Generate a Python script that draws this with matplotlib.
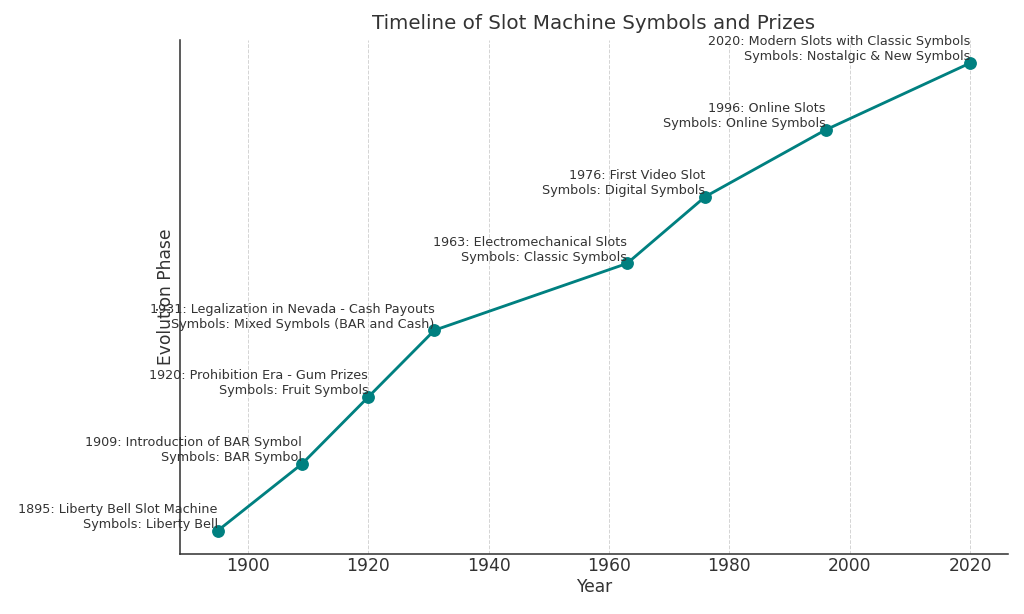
import matplotlib
matplotlib.use("Agg")
import matplotlib.pyplot as plt

years = [1895, 1909, 1920, 1931, 1963, 1976, 1996, 2020]
events = [
    "Liberty Bell Slot Machine",
    "Introduction of BAR Symbol",
    "Prohibition Era - Gum Prizes",
    "Legalization in Nevada - Cash Payouts",
    "Electromechanical Slots",
    "First Video Slot",
    "Online Slots",
    "Modern Slots with Classic Symbols",
]
symbols = [
    "Liberty Bell",
    "BAR Symbol",
    "Fruit Symbols",
    "Mixed Symbols (BAR and Cash)",
    "Classic Symbols",
    "Digital Symbols",
    "Online Symbols",
    "Nostalgic & New Symbols",
]
phase = list(range(len(years)))

txt = "#333333"
teal = "#008080"

fig = plt.figure(figsize=(10, 6), dpi=102.4)
ax = fig.add_axes([0.176, 0.0977, 0.808, 0.837])

ax.plot(years, phase, color=teal, linewidth=2, marker="o", markersize=8)

for yr, ph, ev, sy in zip(years, phase, events, symbols):
    ax.text(yr, ph, f"{yr}: {ev}\nSymbols: {sy}", ha="right", va="bottom",
            fontsize=9, color=txt)

ax.set_title("Timeline of Slot Machine Symbols and Prizes", fontsize=14,
             color=txt, pad=8)
ax.set_xlabel("Year", fontsize=12, color=txt, labelpad=2)
ax.set_ylabel("Evolution Phase", fontsize=12, color=txt)
ax.set_yticks([])
ax.tick_params(axis="x", labelsize=12, colors=txt, length=0, pad=2)
ax.grid(axis="x", linestyle="--", color="#d5d5d5", linewidth=0.7)
ax.spines["top"].set_visible(False)
ax.spines["right"].set_visible(False)
ax.spines["left"].set_color(txt)
ax.spines["bottom"].set_color(txt)
ax.spines["left"].set_linewidth(1.1)
ax.spines["bottom"].set_linewidth(1.1)

fig.savefig("out.png", dpi=102.4)
